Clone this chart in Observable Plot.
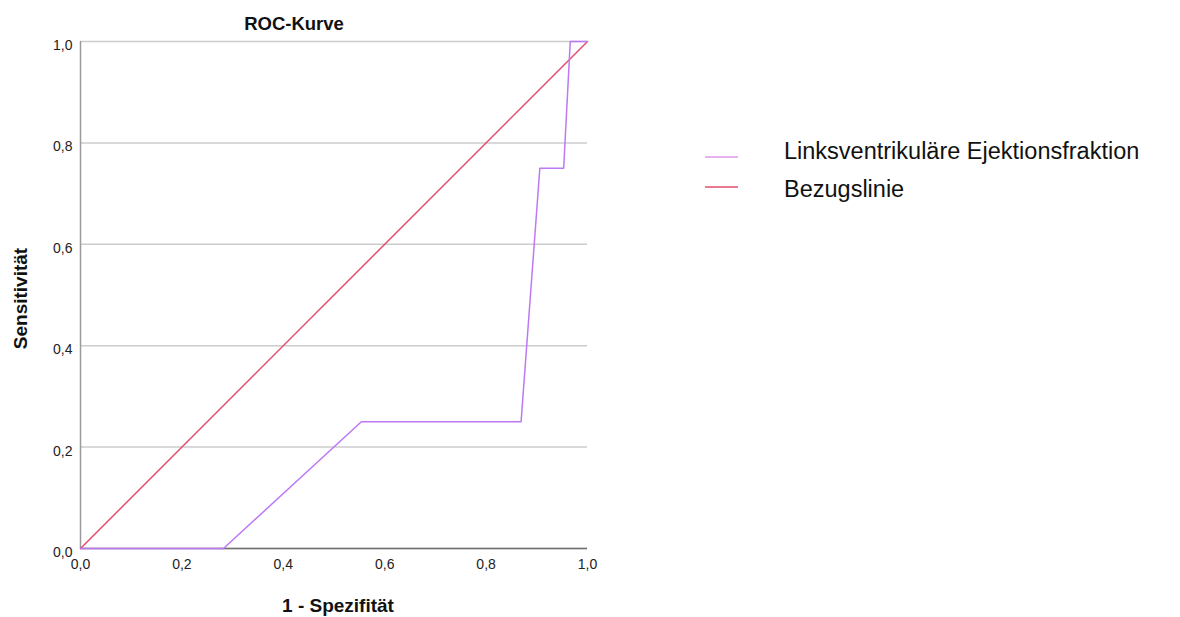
<!DOCTYPE html>
<html><head><meta charset="utf-8">
<script src="https://cdn.jsdelivr.net/npm/d3@7"></script>
<script src="https://cdn.jsdelivr.net/npm/@observablehq/plot@0.6"></script>
<style>
body{margin:0;background:#fff;font-family:"Liberation Sans",Arial,sans-serif;}
#wrap{position:relative;width:1180px;height:617px;}
#legend{position:absolute;left:0;top:0;pointer-events:none;}
</style>
</head><body>
<div id="wrap"></div>
<script>
const rocFpr = [0, 0.282, 0.554, 0.869, 0.906, 0.953, 0.966, 1];
const rocTpr = [0, 0, 0.25, 0.25, 0.75, 0.75, 1, 1];
const refFpr = [0, 1];
const refTpr = [0, 1];
const tickValues = [0, 0.2, 0.4, 0.6, 0.8, 1];
const seriesNames = ["Linksventrikuläre Ejektionsfraktion", "Bezugslinie"];
const seriesColors = ["#bd78f4", "#e3506e"];
const legendColors = ["#e6b3ef", "#ea7a90"];

const roc = rocFpr.map((x, i) => ({x, y: rocTpr[i]}));
const ref = refFpr.map((x, i) => ({x, y: refTpr[i]}));
const fmt = d => d.toFixed(1).replace(".", ",");
const FONT = '"Liberation Sans", Arial, sans-serif';

const chart = Plot.plot({
  width: 1180, height: 617,
  marginLeft: 80, marginRight: 593, marginTop: 41, marginBottom: 69,
  style: {fontFamily: FONT, background: "#fff"},
  x: {domain: [0, 1]},
  y: {domain: [0, 1]},
  marks: [
    Plot.gridY(tickValues, {stroke: "#cccccc", strokeOpacity: 1, strokeWidth: 1.5}),
    Plot.ruleX([0], {stroke: "#9a9a9a", strokeWidth: 1.5}),
    Plot.ruleY([0], {stroke: "#6e6e6e", strokeWidth: 1.5}),
    Plot.line(ref, {x: "x", y: "y", stroke: seriesColors[1], strokeWidth: 1.5}),
    Plot.line(roc, {x: "x", y: "y", stroke: seriesColors[0], strokeWidth: 1.5}),
    Plot.axisX(tickValues, {tickSize: 0, tickPadding: 11, tickFormat: fmt, fontSize: 14, fill: "#222", label: null}),
    Plot.axisY(tickValues, {tickSize: 0, tickPadding: 8, dy: 4, tickFormat: fmt, fontSize: 14, fill: "#222", label: null}),
    Plot.text(["ROC-Kurve"], {frameAnchor: "top", lineAnchor: "middle", dx: -40, dy: -17.5, fontSize: 18.5, fontWeight: "bold", fill: "#111"}),
    Plot.text(["1 - Spezifität"], {frameAnchor: "bottom", lineAnchor: "middle", dx: 4, dy: 57, fontSize: 19, fontWeight: "bold", fill: "#111"}),
    Plot.text(["Sensitivität"], {frameAnchor: "left", textAnchor: "middle", lineAnchor: "middle", rotate: -90, dx: -60, dy: 3.5, fontSize: 19, fontWeight: "bold", fill: "#111"})
  ]
});
const wrap = document.getElementById("wrap");
wrap.append(chart);

// Legend (outside the plot frame, to the right)
const ns = "http://www.w3.org/2000/svg";
const lg = document.createElementNS(ns, "svg");
lg.setAttribute("id", "legend");
lg.setAttribute("width", 1180);
lg.setAttribute("height", 617);
const swatchY = [157, 187];
const textBaseline = [159, 197];
seriesNames.forEach((name, i) => {
  const ln = document.createElementNS(ns, "line");
  ln.setAttribute("x1", 705); ln.setAttribute("x2", 738);
  ln.setAttribute("y1", swatchY[i]); ln.setAttribute("y2", swatchY[i]);
  ln.setAttribute("stroke", legendColors[i]); ln.setAttribute("stroke-width", 2);
  lg.append(ln);
  const tx = document.createElementNS(ns, "text");
  tx.setAttribute("x", 784); tx.setAttribute("y", textBaseline[i]);
  tx.setAttribute("font-family", FONT); tx.setAttribute("font-size", 23.5);
  tx.setAttribute("fill", "#111");
  tx.textContent = name;
  lg.append(tx);
});
wrap.append(lg);
</script>
</body></html>
